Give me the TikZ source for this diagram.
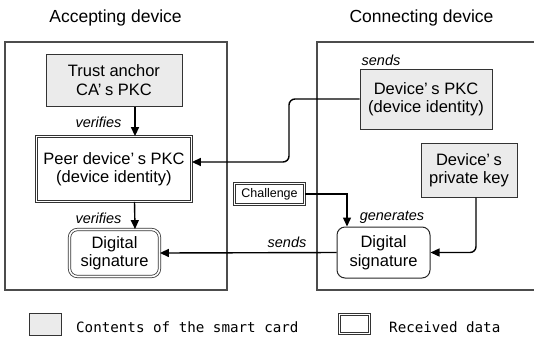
\documentclass[tikz,border=0pt]{standalone}
\usepackage{fontspec}
\setmainfont{Liberation Sans}
\newfontfamily\legfont{DejaVu Sans Mono}
\usetikzlibrary{arrows.meta,calc}
\newcommand{\apo}{’\kern0.22em}
\begin{document}
\begin{tikzpicture}[x=1pt,y=-1pt,
  lbl/.style={font=\fontsize{16.5}{18.5}\selectfont, align=center, inner sep=0pt},
  card/.style={lbl, draw=black!80, line width=1pt, fill=black!8},
  recv/.style={lbl, draw=black!80, double=white, double distance=1.6pt, line width=0.8pt},
  sig/.style={lbl, draw=black!85, line width=1pt, rounded corners=8pt},
  container/.style={draw=black!70, line width=1.2pt},
  verb/.style={font=\fontsize{14.5}{16}\selectfont\itshape, inner sep=0pt, anchor=base},
  title/.style={font=\fontsize{17.5}{20}\selectfont, inner sep=0pt, anchor=base},
  leg/.style={font=\legfont\fontsize{14.2}{16}\selectfont, inner sep=0pt, anchor=base west},
  arr/.style={-{Triangle[length=9pt,width=8pt]}, line width=1.4pt, black}]
\useasboundingbox (0,0) rectangle (534,340);
% containers
\draw[container] (5,42) rectangle (227,290);
\draw[container] (534,42) -- (317,42) -- (317,290) -- (534,290);
% titles
\node[title] (t1) at (115.5,22) {Accepting device};
\node[title] (t2) at (421.5,22) {Connecting device};
% nodes
\node[card, minimum width=136pt, minimum height=52pt] (trust) at (114,80) {Trust anchor\\CA\apo s PKC};
\node[recv, minimum width=155pt, minimum height=65pt] (peer) at (114,169) {Peer device\apo s PKC\\(device identity)};
\node[recv, rounded corners=8pt, minimum width=90pt, minimum height=47pt] (lsig) at (114.5,253) {Digital\\signature};
\node[card, minimum width=132pt, minimum height=60pt] (devpkc) at (426,99) {Device\apo s PKC\\(device identity)};
\node[card, minimum width=96pt, minimum height=54pt] (priv) at (469,170) {Device\apo s\\private key};
\node[recv, font=\fontsize{12.5}{14}\selectfont, minimum width=70pt, minimum height=21pt] (chal) at (269.5,194) {Challenge};
\node[sig, minimum width=93pt, minimum height=51pt] (rsig) at (383.5,252.5) {Digital\\signature};
% connectors
\draw[arr] ([xshift=21pt]trust.south) -- ([xshift=21pt]peer.north);
\draw[arr] ([xshift=20.5pt]peer.south) -- ([xshift=20.5pt]lsig.north);
\draw[arr, rounded corners=6pt] (devpkc.west) -- (289,99) -- (289,162) -- ([yshift=7pt]peer.east);
\draw[arr] (chal.east) -| ([xshift=-36.5pt]rsig.north);
\draw[arr, rounded corners=6pt] ([xshift=7pt]priv.south) |- (rsig.east);
\draw[arr] (rsig.west) -- (lsig.east);
% verb labels
\node[verb] (v1) at (98.5,127.5) {verifies};
\node[verb] (v2) at (98.5,223) {verifies};
\node[verb] (s1) at (381,65) {sends};
\node[verb] (g1) at (392,220) {generates};
\node[verb] (s2) at (287,247) {sends};
% legend
\node[card, minimum width=32pt, minimum height=22pt] (lg1) at (45,324) {};
\node[leg] (lt1) at (76,332) {Contents of the smart card};
\node[recv, minimum width=30pt, minimum height=19pt] (lg2) at (354.5,324) {};
\node[leg] (lt2) at (389,332) {Received data};
\end{tikzpicture}
\end{document}
